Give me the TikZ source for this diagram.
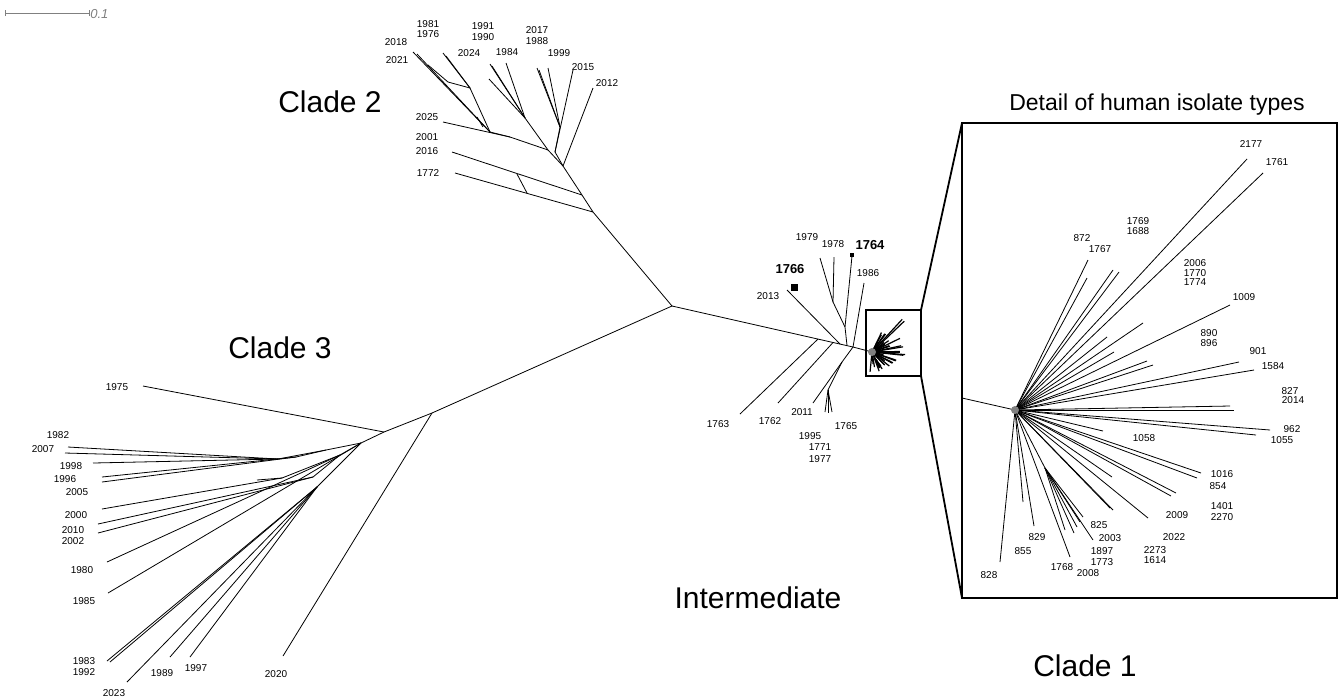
\documentclass[tikz,border=0pt]{standalone}
\usepackage{fontspec}
\setmainfont{Liberation Sans}
\usetikzlibrary{positioning}

\tikzset{
  br/.style={black, line width=0.4pt},
  boxline/.style={black, line width=0.9pt},
  leaf/.style={font=\fontsize{5}{5}\selectfont, inner sep=0pt},
  boldleaf/.style={font=\fontsize{6.5}{6.5}\selectfont\bfseries, inner sep=0pt},
  clade/.style={font=\fontsize{15}{15}\selectfont, inner sep=0pt},
  marker/.style={fill=black, inner sep=0pt},
}

% one fan of human isolate types, drawn at (0,0)
\newcommand{\isofan}{%
  \coordinate (fo) at (0,0);
  \foreach \dx/\dy in {73/-150, 72/-132, 98/-140, 104/-138, 232/-251, 248/-237,
      128/-87, 92/-73, 99/-58, 132/-49, 138/-45, 215/-105, 224/-48, 239/-40,
      215/-4, 219/0, 255/20, 241/25, 88/21, 186/63, 182/68, 161/83, 156/86,
      97/67, 98/100, 95/98, 133/108, 19/116, 8/92, -15/152, 55/147}
    {\coordinate (ft) at (\dx,\dy); \draw (fo) -- (ft);}
  \coordinate (fs) at (30,58);
  \draw (fo) -- (fs);
  \foreach \dx/\dy in {68/107, 65/112, 62/117, 59/123, 78/130, 50/120}
    {\coordinate (ft) at (\dx,\dy); \draw (fs) -- (ft);}
}

\begin{document}
\begin{tikzpicture}[x=0.5pt, y=-0.5pt]
\useasboundingbox (0,0) rectangle (1342,698);

% scale bar
\coordinate (sb1) at (5,13);
\coordinate (sb2) at (89,13);
\draw[gray, line width=0.4pt] (sb1) -- (sb2);
\draw[gray, line width=0.4pt] ([yshift=-1.5pt]sb1) -- ([yshift=1.5pt]sb1);
\draw[gray, line width=0.4pt] ([yshift=-1.5pt]sb2) -- ([yshift=1.5pt]sb2);
\node[font=\fontsize{6.5}{6.5}\selectfont\itshape, text=gray, inner sep=0pt, anchor=west] (sbt) at (90,14) {0.1};

% backbone
\coordinate (c0) at (672,306);
\coordinate (c2) at (593,212);
\coordinate (c3) at (432,413);
\coordinate (c3b) at (384,432);
\coordinate (n3) at (361,443);
\coordinate (ni) at (853,347);
\draw[br] (c2) -- (c0) -- (c3) -- (c3b) -- (n3);
\draw[br] (c0) -- (ni);

% clade 3
\coordinate (a) at (326,450);
\coordinate (a1) at (278,459);
\coordinate (a2) at (296,457);
\coordinate (b) at (340,455);
\coordinate (b1) at (282,478);
\coordinate (b2) at (313,477);
\coordinate (d) at (317,487);
\draw[br] (n3) -- (a) -- (a1);
\draw[br] (a) -- (a2);
\draw[br] (n3) -- (b) -- (b1);
\draw[br] (b) -- (b2);
\draw[br] (n3) -- (d);
\foreach \f/\n/\x/\y in {c3/t2020/283/656, c3b/t1975/143/386,
    a1/t1982/68/447, a1/t2007/65/453, a1/t1998/93/463, a2/t1996/102/477,
    a2/t2005/102/482, b1/t2000/102/509, b2/t2010/98/524, b2/t2002/98/533,
    b/t1980/107/562, n3/t1985/108/593, d/t1983/107/661, d/t1992/110/662,
    d/t2023/127/682, d/t1989/170/657, d/t1997/190/657}
  {\coordinate (\n) at (\x,\y); \draw[br] (\f) -- (\n);}
\coordinate (x3a) at (257,480);
\draw[br] (x3a) -- (b1);

% clade 2
\coordinate (n2b) at (582,195);
\coordinate (n2c) at (563,166);
\coordinate (n2d) at (555,152);
\coordinate (n2e) at (560,127);
\coordinate (n2f) at (548,150);
\coordinate (n2g) at (525,118);
\coordinate (n2h) at (510,137);
\coordinate (n2i) at (490,132);
\coordinate (n2j) at (470,88);
\draw[br] (c2) -- (n2b) -- (n2c) -- (n2d) -- (n2e);
\draw[br] (n2c) -- (n2f) -- (n2g);
\draw[br] (n2f) -- (n2h) -- (n2i) -- (n2j);
\foreach \f/\n/\x/\y in {c2/t1772/455/173, n2b/t2016/452/152, n2c/t2012/593/88,
    n2d/t2015/573/70, n2e/t1999/548/68, n2e/t2017/537/68, n2e/t1988/539/70,
    n2g/t1984/506/63, n2g/t1991/490/64, n2g/t1990/492/66, n2g/t2024/489/79,
    n2h/t2025/443/122, n2i/t2018/413/52, n2i/t2021/417/54,
    n2j/t1981/443/53, n2j/t1976/446/56}
  {\coordinate (\n) at (\x,\y); \draw[br] (\f) -- (\n);}
\coordinate (x2a) at (517,174);
\coordinate (x2b) at (527,193);
\coordinate (x2c) at (428,65);
\coordinate (x2d) at (448,82);
\coordinate (x2e) at (477,117);
\coordinate (x2f) at (483,127);
\draw[br] (x2a) -- (x2b);
\draw[br] (x2c) -- (x2d) -- (n2j);
\draw[br] (x2e) -- (x2f);

% intermediate
\coordinate (i1) at (818,339);
\coordinate (i2) at (833,342.5);
\coordinate (i3) at (840,344);
\coordinate (i4) at (847,345.5);
\coordinate (j1) at (845,327);
\coordinate (j2) at (833,302);
\coordinate (k1) at (842,362);
\coordinate (k2) at (828,390);
\draw[br] (i4) -- (j1) -- (j2);
\draw[br] (ni) -- (k1) -- (k2);
\foreach \f/\n/\x/\y in {i1/t1763/740/414, i2/t1762/778/403, i3/t2013/787/290,
    j2/t1979/820/258, j2/t1978/834/257, j1/t1764/852/256, ni/t1986/864/283,
    k1/t2011/813/403, k2/t1995/825/412, k2/t1771/828/413, k2/t1977/832/412}
  {\coordinate (\n) at (\x,\y); \draw[br] (\f) -- (\n);}
\node[marker, minimum size=3.5pt] (m1766) at (794,287) {};
\node[marker, minimum size=2pt] (m1764) at (852,255) {};

% small box with the clade 1 fan
\coordinate (fc) at (872,352);
\draw[br] (ni) -- (fc);
\begin{scope}[shift={(872,352)}, scale=0.13, black, line width=0.6pt]
  \isofan
\end{scope}
\fill[gray] (fc) circle (2pt);
\coordinate (sbtl) at (866,310);
\coordinate (sbtr) at (921,310);
\coordinate (sbbr) at (921,376);
\draw[boxline] (sbtl) rectangle (sbbr);

% detail box
\coordinate (bbtl) at (962,123);
\coordinate (bbbl) at (962,598);
\coordinate (bbbr) at (1337,598);
\draw[boxline] (bbtl) rectangle (bbbr);
\draw[boxline] (sbtr) -- (bbtl);
\draw[boxline] (sbbr) -- (bbbl);
\coordinate (bc) at (1015,410);
\coordinate (bin) at (962,398);
\draw[br] (bin) -- (bc);
\begin{scope}[shift={(1015,410)}, br]
  \isofan
\end{scope}
\fill[gray] (bc) circle (2pt);

% labels
\foreach \x/\y/\t in {428/24/1981, 428/34/1976, 396/42/2018, 397/60/2021,
    483/26/1991, 483/37/1990, 469/53/2024, 507/52/1984, 537/30/2017, 537/41/1988,
    559/53/1999, 583/67/2015, 607/83/2012, 427/117/2025, 427/137/2001,
    427/151/2016, 428/173/1772,
    117/387/1975, 58/435/1982, 43/449/2007, 71/466/1998, 65/479/1996,
    77/492/2005, 76/515/2000, 73/530/2010, 73/541/2002, 82/570/1980,
    84/601/1985, 84/661/1983, 84/672/1992, 114/693/2023, 162/673/1989,
    196/668/1997, 276/674/2020,
    807/237/1979, 833/244/1978, 768/296/2013, 868/273/1986, 718/424/1763,
    770/421/1762, 802/412/2011, 846/426/1765, 810/436/1995, 820/447/1771,
    820/459/1977,
    1251/144/2177, 1277/162/1761, 1138/221/1769, 1138/231/1688, 1082/238/872,
    1100/249/1767, 1195/263/2006, 1195/273/1770, 1195/282/1774, 1244/297/1009,
    1209/333/890, 1209/343/896, 1258/351/901, 1273/366/1584, 1290/391/827,
    1293/400/2014, 1292/429/962, 1282/440/1055, 1144/438/1058, 1222/474/1016,
    1218/486/854, 1222/506/1401, 1222/517/2270, 1177/515/2009, 1174/537/2022,
    1155/550/2273, 1155/560/1614, 1099/525/825, 1110/538/2003, 1102/551/1897,
    1102/562/1773, 1062/567/1768, 1088/573/2008, 1037/537/829, 1023/551/855,
    989/575/828}
  {\node[leaf] (lab\t) at (\x,\y) {\t};}
\node[boldleaf] (lab1764) at (870,245) {1764};
\node[boldleaf] (lab1766) at (790,269) {1766};

\node[clade] (cl2) at (330,102) {Clade 2};
\node[clade] (cl3) at (280,348) {Clade 3};
\node[clade] (cli) at (758,598) {Intermediate};
\node[clade] (cl1) at (1085,666) {Clade 1};
\node[font=\fontsize{11.5}{11.5}\selectfont, inner sep=0pt] (title) at (1157,105) {Detail of human isolate types};
\end{tikzpicture}
\end{document}
